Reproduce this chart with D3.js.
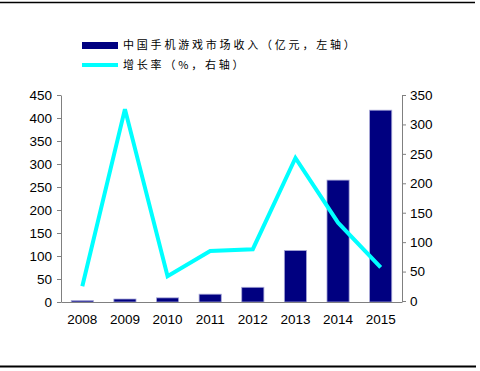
<!DOCTYPE html>
<html>
<head>
<meta charset="utf-8">
<script src="https://cdn.jsdelivr.net/npm/d3@7"></script>
<style>
  body { margin: 0; background: #fff; }
  svg text { font-family: "Liberation Sans", Arial, sans-serif; }
</style>
</head>
<body>
<div id="chart"></div>
<script>
// data
var years = ["2008", "2009", "2010", "2011", "2012", "2013", "2014", "2015"]
var revenue = [3, 6.5, 9, 17, 32, 112, 265, 417]      // 亿元, left axis
var growth = [25, 326, 42, 85, 88, 243, 133, 57]       // %, right axis
var leftTicks = [0, 50, 100, 150, 200, 250, 300, 350, 400, 450]
var rightTicks = [0, 50, 100, 150, 200, 250, 300, 350]
var legendLabels = ["中国手机游戏市场收入（亿元，左轴）", "增长率（%，右轴）"]

const W = 480, H = 371
const plot = { left: 61, right: 402, top: 95, bottom: 302 }

const svg = d3.select("#chart").append("svg")
  .attr("width", W)
  .attr("height", H)

// frame lines top and bottom
svg.append("line")
  .attr("x1", 0).attr("x2", 475).attr("y1", 2.5).attr("y2", 2.5)
  .attr("stroke", "#000").attr("stroke-width", 1.6)
svg.append("line")
  .attr("x1", 0).attr("x2", 476).attr("y1", 366.5).attr("y2", 366.5)
  .attr("stroke", "#000").attr("stroke-width", 1.8)

const x = d3.scaleBand()
  .domain(years)
  .range([plot.left, plot.right])
  .paddingInner(0.48)
  .paddingOuter(0.24)

const yL = d3.scaleLinear().domain([0, 450]).range([plot.bottom, plot.top])
const yR = d3.scaleLinear().domain([0, 350]).range([plot.bottom - 1, plot.top])

// bars
svg.append("g")
  .selectAll("rect")
  .data(revenue)
  .join("rect")
  .attr("x", (d, i) => x(years[i]))
  .attr("width", x.bandwidth())
  .attr("y", d => yL(d))
  .attr("height", d => plot.bottom - yL(d))
  .attr("fill", "#000080")
  .attr("stroke", "#a8a8d8")
  .attr("stroke-width", 0.8)

// growth line
const line = d3.line()
  .x((d, i) => x(years[i]) + x.bandwidth() / 2)
  .y(d => yR(d))

svg.append("path")
  .datum(growth)
  .attr("d", line)
  .attr("fill", "none")
  .attr("stroke", "#00ffff")
  .attr("stroke-width", 4)
  .attr("stroke-linejoin", "miter")

// axes
const left = svg.append("g")
  .attr("transform", `translate(${plot.left},0)`)
  .call(d3.axisLeft(yL).tickValues(leftTicks).tickSize(4).tickSizeOuter(0).tickPadding(5))
const right = svg.append("g")
  .attr("transform", `translate(${plot.right},0)`)
  .call(d3.axisRight(yR).tickValues(rightTicks).tickSize(4).tickSizeOuter(0).tickPadding(4))

;[left, right].forEach(function (g) {
  g.select(".domain").attr("stroke", "#808080")
  g.selectAll(".tick line").attr("stroke", "#808080")
  g.selectAll(".tick text")
    .attr("fill", "#000")
    .style("font-size", "13.5px")
    .style("font-family", "'Liberation Sans', Arial, sans-serif")
})

const bottom = svg.append("g")
  .attr("transform", `translate(0,${plot.bottom})`)
  .call(d3.axisBottom(x).tickSize(0).tickPadding(12))
bottom.select(".domain").attr("stroke", "#808080")
bottom.selectAll(".tick text")
  .attr("fill", "#000")
  .style("font-size", "13.5px")
  .style("font-family", "'Liberation Sans', Arial, sans-serif")

// legend
const legend = svg.append("g")
legend.append("rect")
  .attr("x", 82).attr("y", 42).attr("width", 36).attr("height", 7)
  .attr("fill", "#000080")
legend.append("line")
  .attr("x1", 82).attr("x2", 118).attr("y1", 65).attr("y2", 65)
  .attr("stroke", "#00ffff").attr("stroke-width", 4)

legend.selectAll("text")
  .data(legendLabels)
  .join("text")
  .attr("x", 123)
  .attr("y", (d, i) => 49 + i * 20)
  .text(d => d)
  .style("font-family", "'Noto Sans CJK SC', sans-serif")
  .style("font-size", "11px")
  .style("letter-spacing", "2.8px")
  .attr("fill", "#000")
</script>
</body>
</html>
